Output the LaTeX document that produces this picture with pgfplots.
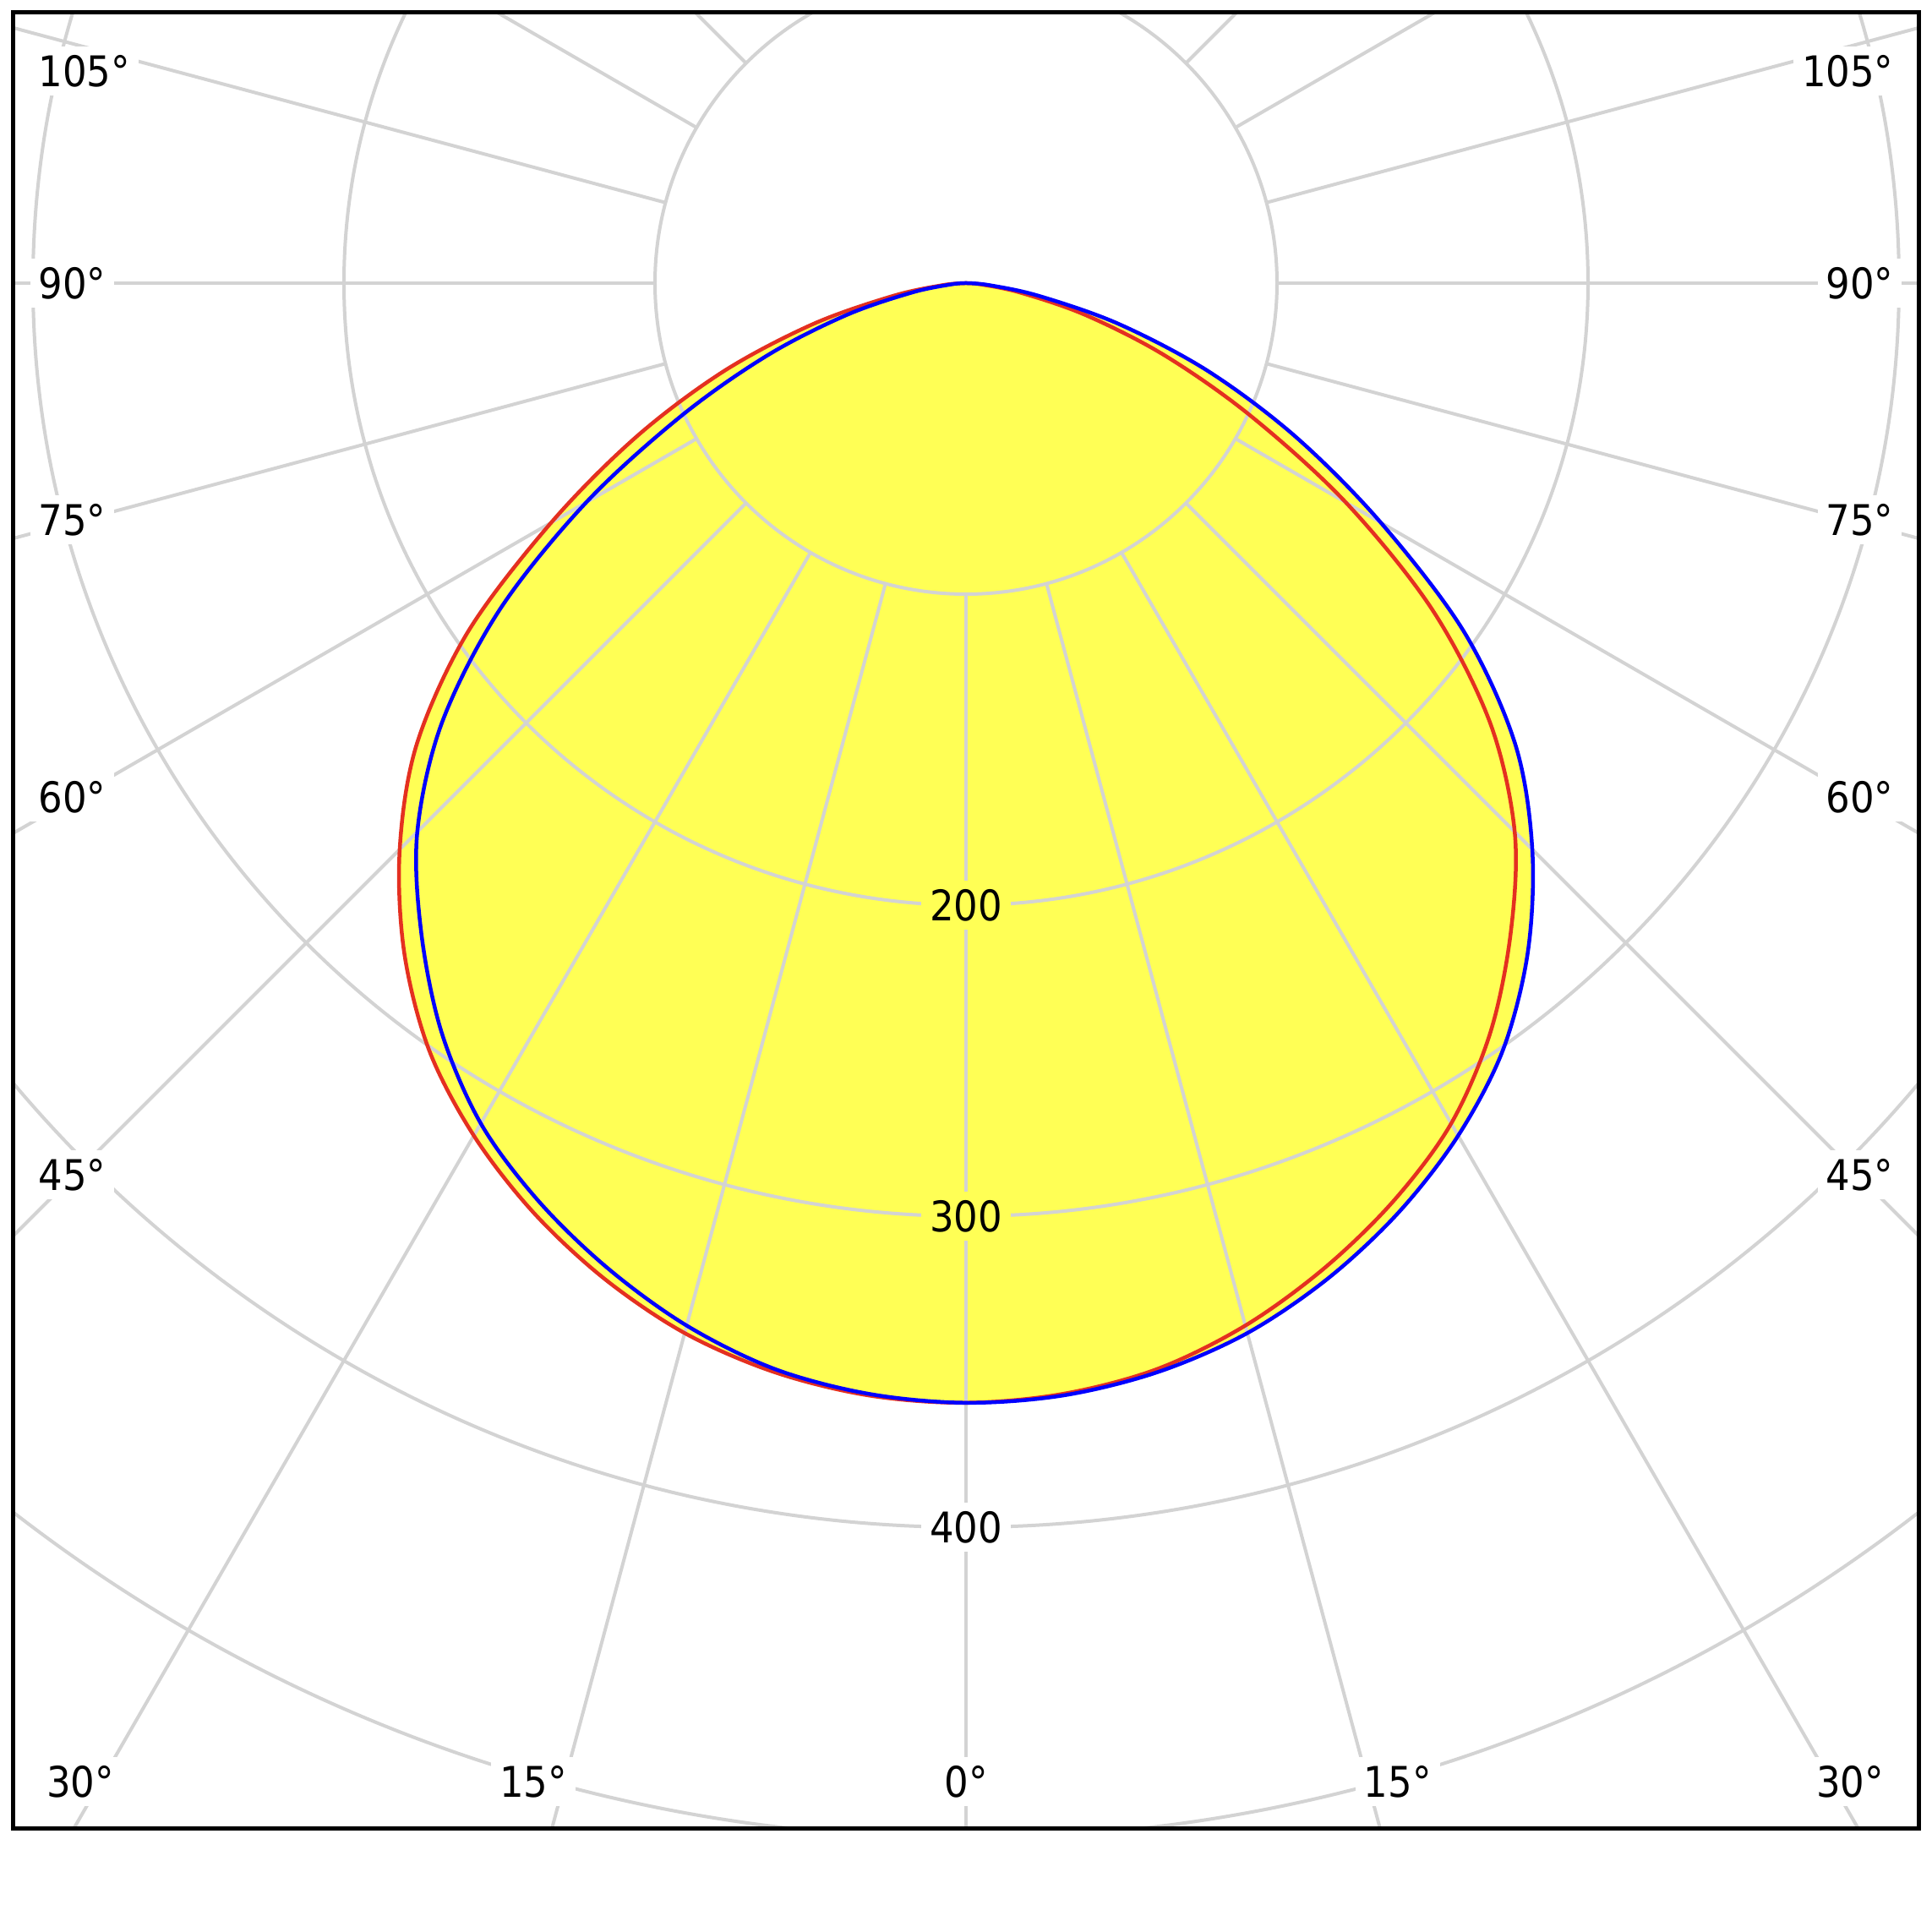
\documentclass[border=0pt]{standalone}
\usepackage{pgfplots}
\pgfplotsset{compat=1.18}
\usepackage{pgfplotstable}
\usepackage{fontspec}
\setmainfont{DejaVu Sans Condensed}
\definecolor{lyellow}{RGB}{255,255,85}
\definecolor{gridgray}{RGB}{211,211,211}
\definecolor{cred}{RGB}{228,48,32}
\definecolor{cblue}{RGB}{0,0,255}

% gamma (deg, negative = left half), luminous intensity (cd/klm)
\pgfplotstableread{
g red blue
-90 0 0
-85 7.5 5
-80 24 18
-75 51 40
-70 83 68
-65 117 101
-60 154 141
-55 195.5 183
-50 230.5 220
-45 257.5 249.5
-40 281 272.5
-35 301 294
-30 316.5 312
-25 329.5 325.5
-20 340.5 337
-15 349.5 347
-10 355.5 354.5
-5 359 358.5
0 360 360
5 358.5 359
10 354.5 355.5
15 347 349.5
20 337 340.5
25 325.5 329.5
30 312 316.5
35 294 301
40 272.5 281
45 249.5 257.5
50 220 230.5
55 183 195.5
60 141 154
65 101 117
70 68 83
75 40 51
80 18 24
85 5 7.5
90 0 0
}\ldc

\begin{document}
\begin{tikzpicture}
\useasboundingbox (-228.6pt,-390.2pt) rectangle (228.6pt,67.0pt);
\begin{axis}[
  at={(0pt,0pt)}, anchor=origin,
  x=0.736pt, y=0.736pt,
  xmin=-306.5, xmax=306.5, ymin=-497, ymax=87,
  axis line style={line width=1pt, black},
  xtick=\empty, ytick=\empty,
  axis on top,
  clip=true,
  every node/.append style={font=\fontsize{10.4}{12}\selectfont},
]
% yellow area
\addplot[draw=none, fill=lyellow, smooth, tension=0.55] table[x expr={\thisrow{red}*sin(\thisrow{g})}, y expr={-\thisrow{red}*cos(\thisrow{g})}] {\ldc} -- cycle;
\addplot[draw=none, fill=lyellow, smooth, tension=0.55] table[x expr={\thisrow{blue}*sin(\thisrow{g})}, y expr={-\thisrow{blue}*cos(\thisrow{g})}] {\ldc} -- cycle;
% polar grid
\pgfplotsinvokeforeach{73.6,147.2,220.8,294.4,368,441.6}{
  \draw[gridgray, line width=0.8pt] (axis cs:0,0) circle[radius=#1pt];
}
\pgfplotsinvokeforeach{0,15,...,180}{
  \draw[gridgray, line width=0.8pt] ([shift={(-90+#1:73.6pt)}]axis cs:0,0) -- ([shift={(-90+#1:600pt)}]axis cs:0,0);
  \draw[gridgray, line width=0.8pt] ([shift={(-90-#1:73.6pt)}]axis cs:0,0) -- ([shift={(-90-#1:600pt)}]axis cs:0,0);
}
% curves
\addplot[cred, line width=0.9pt, smooth, tension=0.55] table[x expr={\thisrow{red}*sin(\thisrow{g})}, y expr={-\thisrow{red}*cos(\thisrow{g})}] {\ldc};
\addplot[cblue, line width=0.9pt, smooth, tension=0.55] table[x expr={\thisrow{blue}*sin(\thisrow{g})}, y expr={-\thisrow{blue}*cos(\thisrow{g})}] {\ldc};
% radial labels
\node[fill=lyellow, inner sep=2pt] at (axis cs:0,-200) {200};
\node[fill=lyellow, inner sep=2pt] at (axis cs:0,-300) {300};
\node[fill=white, inner sep=2pt] at (axis cs:0,-400) {400};
% angle labels
\node[fill=white, inner sep=2pt, anchor=west] at (axis cs:-301.2,68.2) {105°};
\node[fill=white, inner sep=2pt, anchor=west] at (axis cs:-301.2,0) {90°};
\node[fill=white, inner sep=2pt, anchor=west] at (axis cs:-301.2,-76.1) {75°};
\node[fill=white, inner sep=2pt, anchor=west] at (axis cs:-301.2,-165.2) {60°};
\node[fill=white, inner sep=2pt, anchor=west] at (axis cs:-301.2,-286.7) {45°};
\node[fill=white, inner sep=2pt, anchor=east] at (axis cs:301.2,68.2) {105°};
\node[fill=white, inner sep=2pt, anchor=east] at (axis cs:301.2,0) {90°};
\node[fill=white, inner sep=2pt, anchor=east] at (axis cs:301.2,-76.1) {75°};
\node[fill=white, inner sep=2pt, anchor=east] at (axis cs:301.2,-165.2) {60°};
\node[fill=white, inner sep=2pt, anchor=east] at (axis cs:301.2,-286.7) {45°};
\node[fill=white, inner sep=2pt] at (axis cs:-284.8,-481.8) {30°};
\node[fill=white, inner sep=2pt] at (axis cs:-139.1,-481.8) {15°};
\node[fill=white, inner sep=2pt] at (axis cs:0,-481.8) {0°};
\node[fill=white, inner sep=2pt] at (axis cs:138.8,-481.8) {15°};
\node[fill=white, inner sep=2pt] at (axis cs:284.2,-481.8) {30°};
\end{axis}
\end{tikzpicture}
\end{document}
